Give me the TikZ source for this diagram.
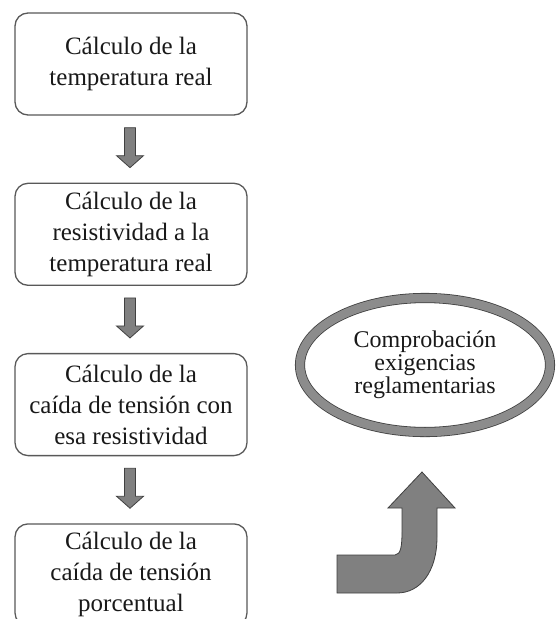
\documentclass[tikz,border=0pt]{standalone}
\usepackage{fontspec}
\setmainfont{Liberation Serif}
\usetikzlibrary{calc,positioning,shapes.geometric}

\begin{document}
\begin{tikzpicture}[
    x=1pt, y=-1pt,
    stepbox/.style={draw=black!65, line width=1.3pt, rounded corners=13pt,
      fill=white, minimum width=232pt, minimum height=102pt, inner sep=0pt,
      align=center, text=black!90, font=\fontsize{25}{31}\selectfont},
    blockarrow/.style={fill=black!50, draw=black!75, line width=0.8pt},
    goal/.style={ellipse, draw=black!75, line width=0.8pt, double=black!45,
      double distance=8.5pt, minimum width=250pt, minimum height=134pt,
      inner sep=0pt, align=center, text=black!90,
      font=\fontsize{24}{23}\selectfont}
  ]

  \def\ShaftW{5.5}
  \def\HeadW{13.5}
  \def\HeadL{12}

  \useasboundingbox (0,0) rectangle (555,619);
  \clip (0,0) rectangle (555,619);
  \fill[white] (0,0) rectangle (555,619);

  % Left column: calculation steps
  \node[stepbox] (calc1) at (131,64) {Cálculo de la\\temperatura real};
  \node[stepbox, below=67pt of calc1] (calc2)
  {Cálculo de la\\resistividad a la\\temperatura real};
  \node[stepbox, below=67pt of calc2] (calc3)
  {Cálculo de la\\caída de tensión con\\esa resistividad};
  \node[stepbox, below=67pt of calc3] (calc4)
  {Cálculo de la\\caída de tensión\\porcentual};

  \foreach \a/\b in {calc1/calc2, calc2/calc3, calc3/calc4} {
    \coordinate (\a-out) at ($(\a.south)+(-1,12)$);
    \coordinate (\b-in) at ($(\b.north)+(-1,-15)$);
    \draw[blockarrow] ($(\a-out)+(-\ShaftW,0)$)
    -- ($(\b-in)+(-\ShaftW,-\HeadL)$) -- ($(\b-in)+(-\HeadW,-\HeadL)$)
    -- (\b-in)
    -- ($(\b-in)+(\HeadW,-\HeadL)$) -- ($(\b-in)+(\ShaftW,-\HeadL)$)
    -- ($(\a-out)+(\ShaftW,0)$) -- cycle;
  }

  % Right: check against the regulations
  \node[goal] (check) at (425,365)
  {Comprobación\\exigencias\\reglamentarias};

  % Bent arrow pointing up to the check
  \draw[blockarrow] (337,555) -- (395,555)
  .. controls (401,555) and (402,545) .. (402,532)
  -- (402,508) -- (388,508) -- (422,472) -- (455,508) -- (437,508)
  -- (437,537) .. controls (437,572) and (420,593) .. (397,593)
  -- (337,593) -- cycle;

\end{tikzpicture}
\end{document}
